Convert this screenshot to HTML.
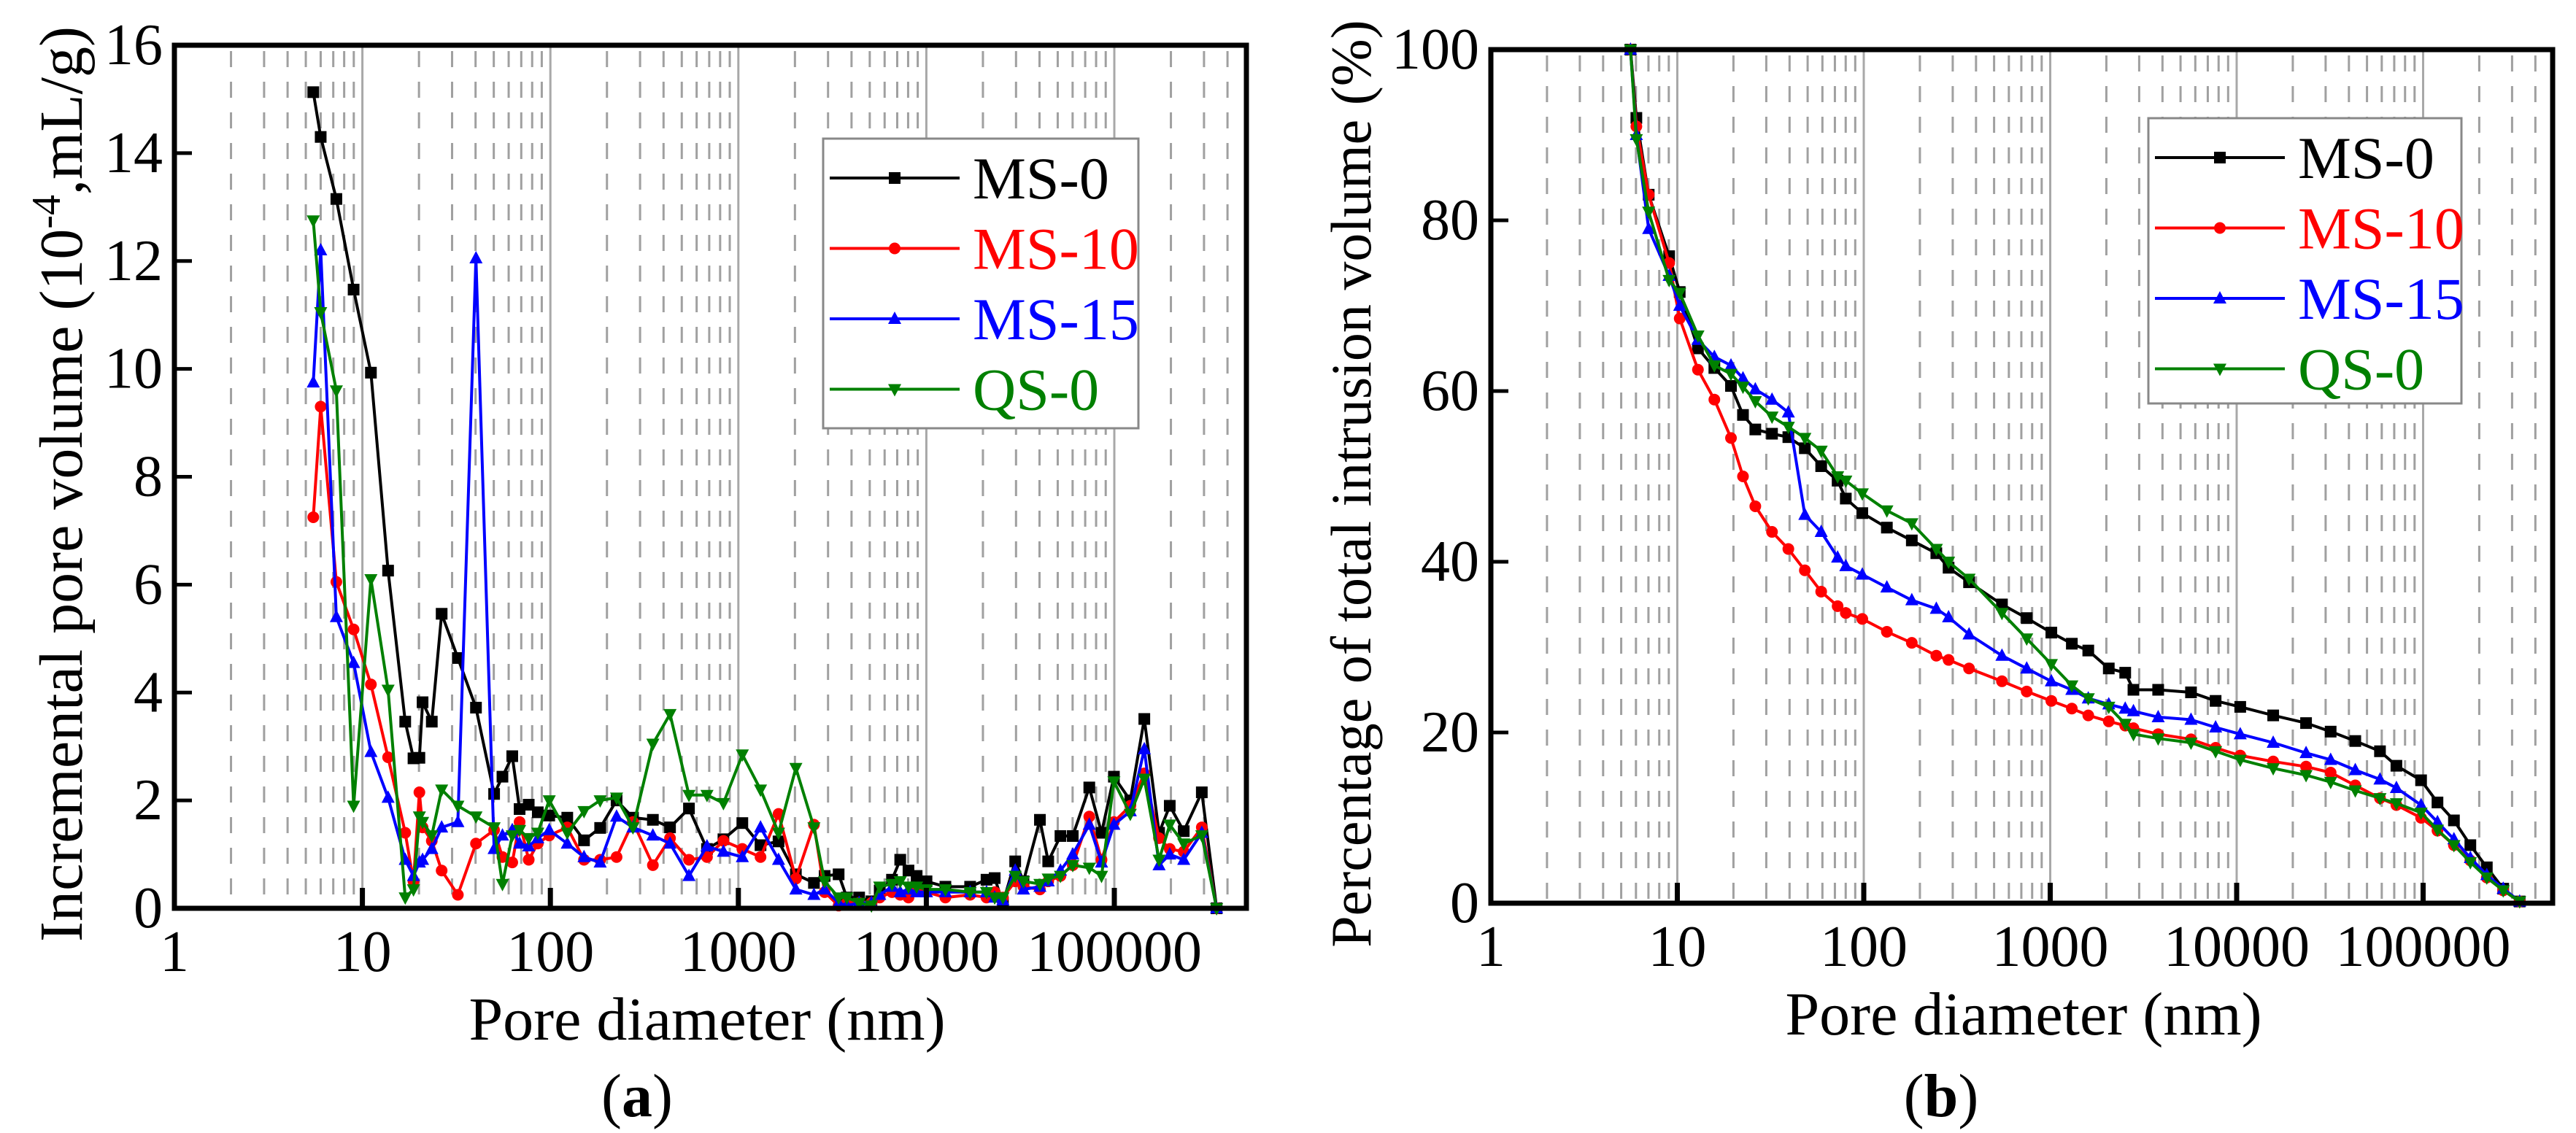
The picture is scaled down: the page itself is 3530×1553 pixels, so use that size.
<!DOCTYPE html>
<html><head><meta charset="utf-8">
<style>
html,body{margin:0;padding:0;background:#fff;}
svg{display:block;}
svg text{font-family:"Times New Roman","Liberation Serif","DejaVu Serif",Times,serif;}
</style></head>
<body>
<svg id="fig" width="3530" height="1553" viewBox="0 0 3530 1553" xmlns="http://www.w3.org/2000/svg" font-family="Times New Roman, Liberation Serif, DejaVu Serif, serif"></svg>
<script>
// ---------- Panel (a) data ----------
const aDiam = [5.48,6.0,7.27,8.98,11.1,13.7,16.9,18.7,20.1,20.9,23.4,26.4,32.2,40.2,50.2,55.6,62.7,68.6,76.7,85.7,98.6,123,151,184,225,275,351,433,546,681,833,1050,1312,1636,2023,2524,2877,3415,3776,4390,5105,5648,6566,7263,8035,8880,10020,12630,17100,20900,23100,25550,29700,32870,40200,44500,51700,60100,73600,85500,99500,121600,144400,173000,197200,234000,292000,350000];
const aMS0 = [15.13,14.3,13.15,11.47,9.93,6.26,3.46,2.78,2.79,3.82,3.46,5.46,4.64,3.72,2.12,2.44,2.82,1.84,1.92,1.78,1.72,1.68,1.26,1.49,2.0,1.68,1.64,1.5,1.85,1.1,1.28,1.58,1.17,1.24,0.63,0.47,0.6,0.63,0.2,0.2,0.13,0.33,0.53,0.9,0.7,0.6,0.5,0.4,0.4,0.53,0.56,0.1,0.87,0.5,1.64,0.87,1.34,1.34,2.24,1.4,2.44,2.0,3.51,1.4,1.9,1.43,2.15,0];
const aMS10 = [7.25,9.3,6.05,5.17,4.15,2.8,1.4,0.5,2.15,1.5,1.25,0.7,0.25,1.2,1.45,0.95,0.85,1.6,0.9,1.2,1.35,1.5,0.9,0.9,0.95,1.6,0.8,1.3,0.9,0.95,1.25,1.1,0.95,1.75,0.55,1.55,0.3,0.05,0.1,0.1,0.1,0.2,0.3,0.25,0.2,0.35,0.3,0.2,0.25,0.2,0.3,0.2,0.5,0.4,0.35,0.5,0.6,0.8,1.7,0.9,1.6,1.9,2.5,1.3,1.1,1.05,1.5,0];
const aMS15 = [9.75,12.2,5.4,4.55,2.9,2.05,0.9,0.6,0.85,0.9,1.1,1.5,1.6,12.05,1.1,1.35,1.45,1.2,1.15,1.3,1.45,1.2,0.95,0.85,1.7,1.5,1.35,1.2,0.6,1.15,1.05,0.95,1.5,0.9,0.35,0.25,0.35,0.1,0.05,0.1,0.1,0.25,0.4,0.3,0.35,0.3,0.3,0.3,0.3,0.3,0.2,0.15,0.7,0.35,0.4,0.5,0.7,1.0,1.55,0.85,1.55,1.8,2.95,0.8,1.0,0.9,1.4,0];
const aQS0 = [12.75,11.05,9.6,1.9,6.1,4.05,0.2,0.35,1.7,1.6,1.35,2.2,1.9,1.7,1.5,0.45,1.35,1.45,1.3,1.4,2.0,1.4,1.8,2.0,2.05,1.5,3.05,3.6,2.1,2.1,1.95,2.85,2.2,1.4,2.6,1.5,0.5,0.2,0.2,0.1,0.05,0.4,0.45,0.5,0.4,0.4,0.35,0.35,0.3,0.3,0.2,0.2,0.6,0.5,0.45,0.55,0.6,0.8,0.75,0.6,2.35,1.75,2.4,0.9,1.55,1.2,1.35,0];
const aYTicks = [0,2,4,6,8,10,12,14,16];
// ---------- Panel (b) data ----------
const bDiam = [5.61,6.03,7.02,9.04,10.3,12.9,15.8,19.4,22.5,26.2,32.2,39.4,48.3,59.1,72.4,80.1,98.2,133,181,245,285,367,551,748,1014,1306,1600,2061,2525,2795,3793,5690,7710,10450,15700,23560,31920,43270,58700,71900,97500,119400,146300,179200,219600,268900,329500];
const bMS0 = [100,92,83,75.8,71.6,65,62.7,60.6,57.2,55.5,55,54.6,53.3,51.2,49.5,47.4,45.7,44,42.5,41,39.3,37.6,35,33.4,31.7,30.4,29.6,27.5,27,25,25,24.7,23.7,23,22,21.1,20.1,19,17.8,16.1,14.4,11.8,9.7,6.8,4.2,1.7,0.2];
const bMS10 = [100,91,83,75,68.5,62.5,59,54.5,50,46.5,43.5,41.5,39,36.5,34.8,34,33.3,31.8,30.5,29,28.5,27.5,26,24.8,23.7,22.8,22,21.3,20.8,20.5,19.8,19.2,18.2,17.3,16.6,16,15.3,13.8,12.3,11.5,10,8.5,6.8,5,3,1.5,0.2];
const bMS15 = [100,90,79,73.5,70,66,64,63,61.5,60.2,59,57.5,45.5,43.5,40.5,39.5,38.5,37,35.5,34.5,33.5,31.5,29,27.5,26,25,24,23.3,22.8,22.5,21.8,21.5,20.6,19.8,18.8,17.6,16.8,15.6,14.5,13.5,11.5,9.5,7.5,5.3,3.3,1.7,0.2];
const bQS0 = [100,89.5,81,73,71.5,66.5,63,62,60.5,58.8,57,55.8,54.5,53,50,49.5,48,46,44.5,41.5,40,38,34,31,28,25.5,24,23,21,19.8,19.3,18.8,17.8,16.8,15.8,15,14.2,13.2,12.3,11.7,10.6,8.6,6.8,4.8,3,1.5,0.2];
const bYTicks = [0,20,40,60,80,100];
const xTickLabels = ["1","10","100","1000","10000","100000"];
const seriesNames = ["MS-0","MS-10","MS-15","QS-0"];
const seriesColors = ["#000000","#ff0000","#0000ff","#008000"];
const markerTypes = ["square","circle","up","down"];

const FONT = '"Times New Roman","Liberation Serif","DejaVu Serif",Times,serif';
const NS = "http://www.w3.org/2000/svg";
const svg = document.getElementById('fig');
function mk(tag, attrs, parent){
  const e = document.createElementNS(NS, tag);
  for (const k in attrs) e.setAttribute(k, attrs[k]);
  if (tag==='text') e.style.fontFamily = FONT;
  (parent||svg).appendChild(e);
  return e;
}
function marker(g, type, x, y, color){
  let e;
  const s = 8;
  if (type==="square") e = mk('rect',{x:x-s,y:y-s,width:2*s,height:2*s,fill:color},g);
  else if (type==="circle") e = mk('circle',{cx:x,cy:y,r:s,fill:color},g);
  else if (type==="up") e = mk('polygon',{points:`${x},${y-s-2} ${x-s-1},${y+s-1} ${x+s+1},${y+s-1}`,fill:color},g);
  else e = mk('polygon',{points:`${x},${y+s+2} ${x-s-1},${y-s+1} ${x+s+1},${y-s+1}`,fill:color},g);
  
  
}

function panel(cfg){
  const {L,R,T,B,ymax,yTicks,diam,series,id,yTitle,yTitleX,yTitleSize,leg,label,labelX,xTitleX} = cfg;
  const dec = cfg.dec;
  const X = d => L + Math.log10(d)*dec;
  const Y = v => B - v/ymax*(B-T);
  const g = mk('g',{});
  
  
  const grid = mk('g',{},g);
  
  
  for (let p=0;p<6;p++){
    for (let m=1;m<10;m++){
      const v = m*Math.pow(10,p);
      const lx = X(v);
      if (lx<=L+2 || lx>=R-2) continue;
      if (m===1) mk('line',{x1:lx,y1:T,x2:lx,y2:B,stroke:'#a8a8a8','stroke-width':3},grid);
      else mk('line',{x1:lx,y1:T+8,x2:lx,y2:B,stroke:'#a0a0a0','stroke-width':3,'stroke-dasharray':'22 20'},grid);
    }
  }
  series.forEach((vals,i)=>{
    const sg = mk('g',{},g);
    
    
    const pts = vals.map((v,j)=>X(diam[j]).toFixed(1)+','+Y(v).toFixed(1)).join(' ');
    mk('polyline',{points:pts,fill:'none',stroke:seriesColors[i],'stroke-width':4,'stroke-linejoin':'round'},sg);
    vals.forEach((v,j)=>marker(sg, markerTypes[i], X(diam[j]), Y(v), seriesColors[i]));
  });
  const fr = mk('rect',{x:L,y:T,width:R-L,height:B-T,fill:'none',stroke:'#000','stroke-width':7},g);
  
  
  const yt = mk('g',{},g);
  
  
  yTicks.forEach(v=>{
    const ty = Y(v);
    mk('line',{x1:L,y1:ty,x2:L+24,y2:ty,stroke:'#000','stroke-width':5},yt);
    const t = mk('text',{x:L-16,y:ty+26,'text-anchor':'end','font-size':80,fill:'#000'},yt);
    t.textContent = v;
    
    
  });
  const xt = mk('g',{},g);
  
  
  xTickLabels.forEach((lab,p)=>{
    const tx = X(Math.pow(10,p));
    if (p>0) mk('line',{x1:tx,y1:B,x2:tx,y2:B-28,stroke:'#000','stroke-width':7},xt);
    const t = mk('text',{x:tx,y:B+86,'text-anchor':'middle','font-size':80,fill:'#000'},xt);
    t.textContent = lab;
    
    
  });
  const xtt = mk('text',{x:xTitleX,y:B+180,'text-anchor':'middle','font-size':84,fill:'#000'},g);
  xtt.textContent = 'Pore diameter (nm)';
  
  
  const cy = (T+B)/2 + 10;
  const ytt = mk('text',{x:0,y:0,'text-anchor':'middle','font-size':yTitleSize,fill:'#000',transform:`translate(${yTitleX},${cy}) rotate(-90)`},g);
  ytt.innerHTML = yTitle;
  
  
  const pl = mk('text',{x:labelX,y:1530,'text-anchor':'middle','font-size':84,fill:'#000'},g);
  pl.innerHTML = '(<tspan font-weight="bold">'+label+'</tspan>)';
  
  
  const lg = mk('g',{},g);
  
  
  mk('rect',{x:leg.x,y:leg.y,width:leg.w,height:leg.h,fill:'#fff',stroke:'#888','stroke-width':3},lg);
  seriesNames.forEach((n,i)=>{
    const ey = leg.y + 54 + i*96.5;
    const eg = mk('g',{},lg);
    
    
    mk('line',{x1:leg.x+9,y1:ey,x2:leg.x+187,y2:ey,stroke:seriesColors[i],'stroke-width':4},eg);
    marker(eg, markerTypes[i], leg.x+98, ey, seriesColors[i]);
    const t = mk('text',{x:leg.x+205,y:ey+28,'font-size':82,fill:seriesColors[i]},eg);
    t.textContent = n;
  });
}

panel({id:'a',L:239,R:1708,T:62,B:1245,dec:257.6,ymax:16,yTicks:aYTicks,diam:aDiam,
  series:[aMS0,aMS10,aMS15,aQS0],
  yTitle:'Incremental pore volume (10<tspan dy="-30" font-size="56">-4</tspan><tspan dy="30">,mL/g)</tspan>',
  yTitleX:112, yTitleSize:84, leg:{x:1128,y:190,w:432,h:397}, label:'a', labelX:873, xTitleX:969});
panel({id:'b',L:2043,R:3498,T:68,B:1238,dec:255.5,ymax:100,yTicks:bYTicks,diam:bDiam,
  series:[bMS0,bMS10,bMS15,bQS0],
  yTitle:'Percentage of total intrusion volume (%)',
  yTitleX:1878, yTitleSize:78, leg:{x:2944,y:162,w:429,h:391}, label:'b', labelX:2660, xTitleX:2773});
</script>
</body></html>
